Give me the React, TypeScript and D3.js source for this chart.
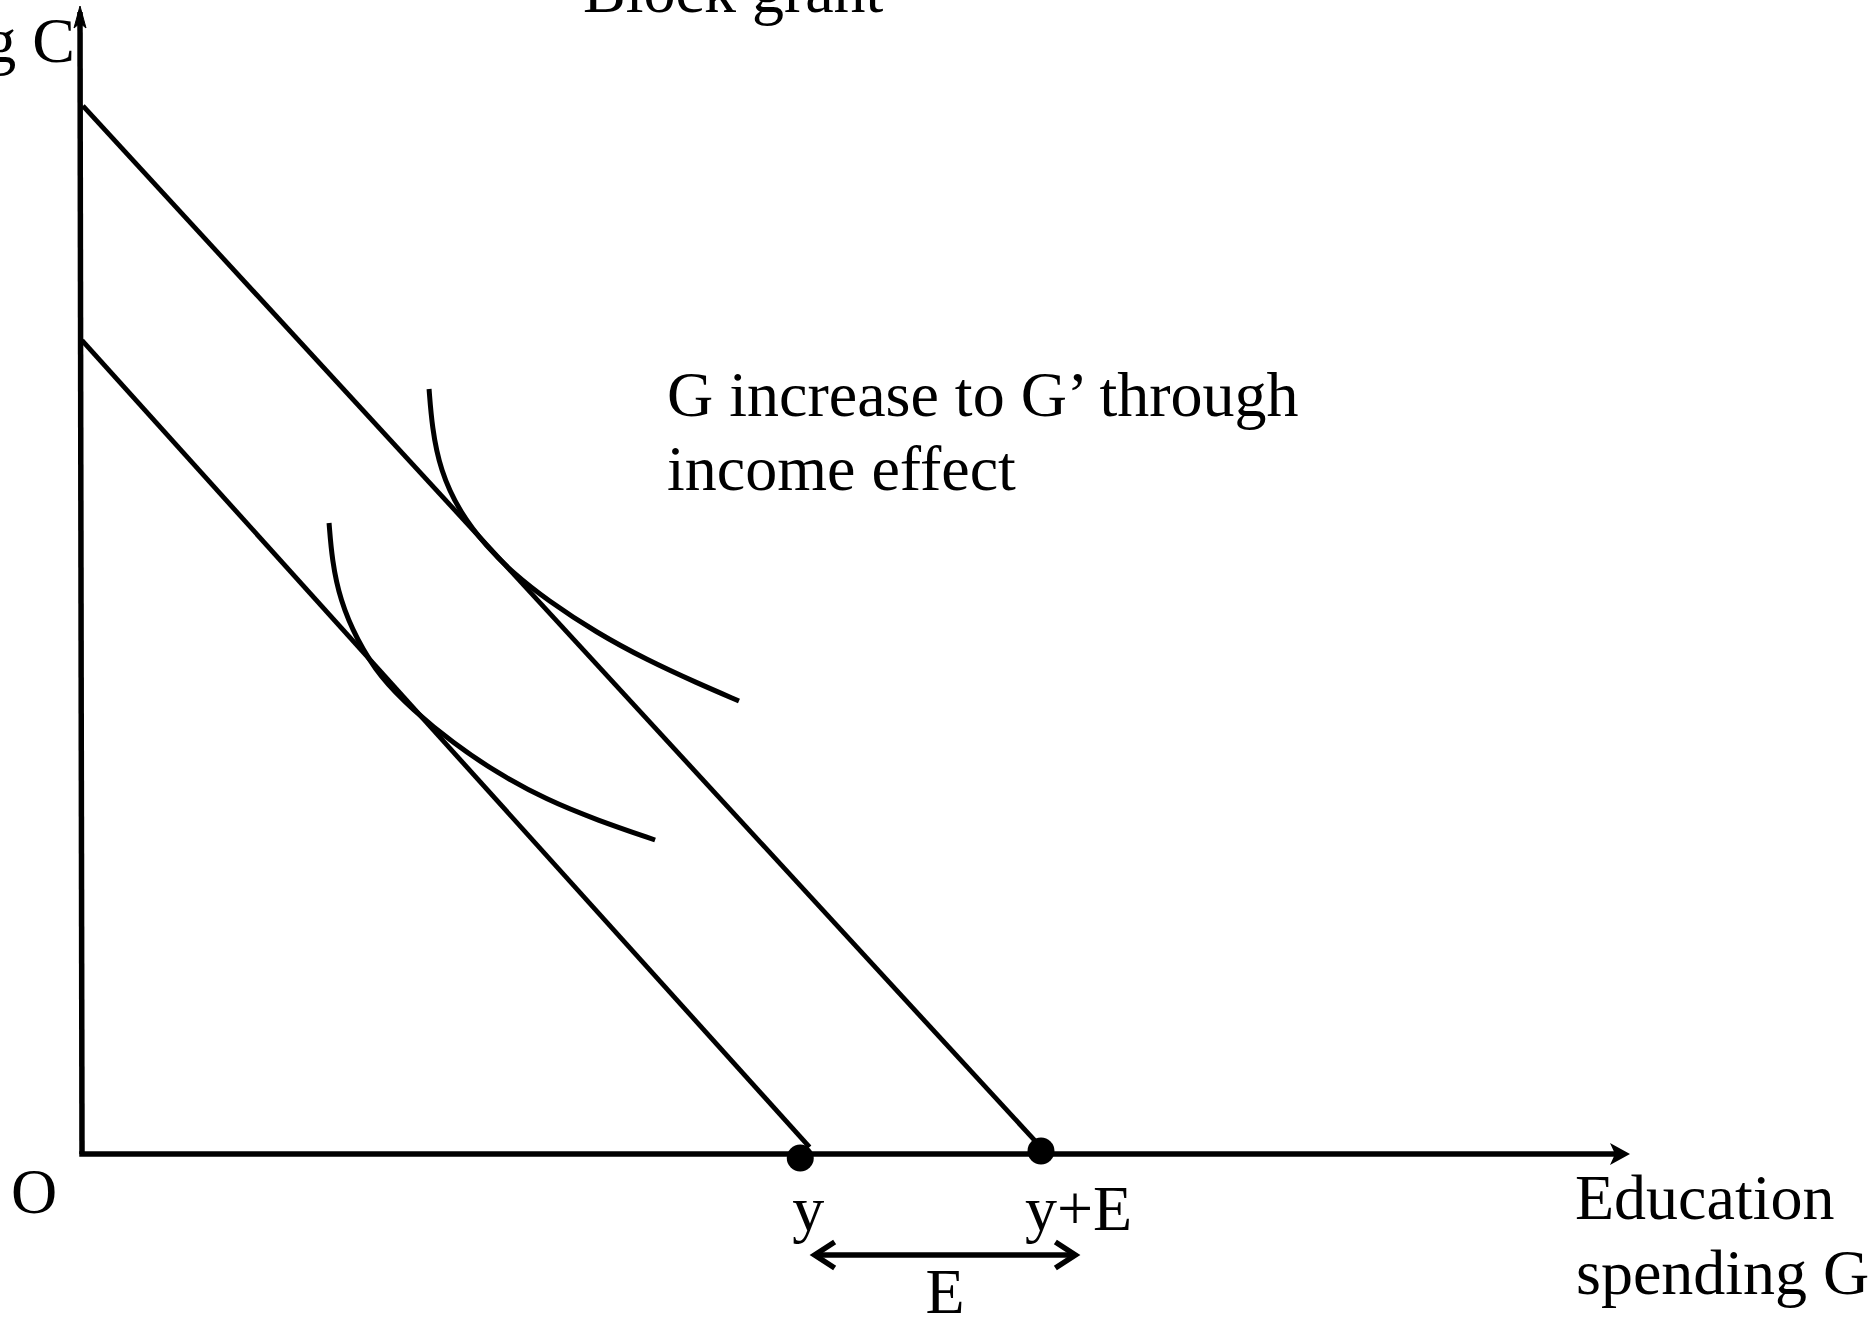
import React from "react";
import * as d3 from "d3";

const WIDTH = 1874;
const HEIGHT = 1319;
const FONT = "'Liberation Serif', 'Times New Roman', serif";
const FONT_SIZE = 64;

// Axis extents in model units (G horizontal, C vertical)
const gAxis = [0, 100];
const cAxis = [0, 100];

// Budget constraints: [G, C] end points
const budgetBefore: [number, number][] = [
  [0, 71.0],
  [47.0, 0.6],
];
const budgetAfter: [number, number][] = [
  [0.06, 91.45],
  [61.6, 1.1],
];

// Indifference curves: [G, C]
const indiffLow: [number, number][] = [
  [15.96, 55.06],
  [16.15, 51.83],
  [16.67, 48.34],
  [17.76, 44.85],
  [19.25, 41.62],
  [21.38, 38.74],
  [23.97, 35.86],
  [26.81, 33.25],
  [30.04, 30.89],
  [33.27, 29.14],
  [37.02, 27.4],
];
const indiffHigh: [number, number][] = [
  [22.42, 66.75],
  [22.61, 63.44],
  [23.13, 59.69],
  [24.42, 55.93],
  [26.16, 52.97],
  [27.84, 50.7],
  [30.04, 48.34],
  [33.27, 45.46],
  [36.5, 43.11],
  [39.73, 41.1],
  [42.44, 39.53],
];

// Income points on the G axis
const incomeNames = ["y", "y+E"];
const incomeG = [46.4, 61.95];
const incomeC = [-0.35, 0.26];

// Grant span E
const grantSpan = [47.2, 64.3];

const titleText = "Block grant";
const yAxisLabel = "Other spending C";
const xAxisLabel = ["Education", "spending G"];
const noteText = ["G increase to G\u2019 through", "income effect"];
const originLabel = "O";
const spanLabel = "E";

export default function App() {
  const x = d3.scaleLinear().domain(gAxis).range([82, 1630]);
  const y = d3.scaleLinear().domain(cAxis).range([1154, 8]);

  const line = d3
    .line<[number, number]>()
    .x((d) => x(d[0]))
    .y((d) => y(d[1]));
  const curve = d3
    .line<[number, number]>()
    .x((d) => x(d[0]))
    .y((d) => y(d[1]))
    .curve(d3.curveBasis);

  const x0 = x(gAxis[0]);
  const xEnd = x(gAxis[1]);
  const y0 = y(cAxis[0]);
  const yEnd = y(cAxis[1]);

  // arrowheads
  const xHead = `M${xEnd},${y0} L${xEnd - 20},${y0 - 11} L${xEnd - 15},${y0} L${xEnd - 20},${y0 + 11} Z`;
  const yTopX = x0 - 2;
  const yHead = `M${yTopX},${yEnd - 2} L${yTopX - 6},${yEnd + 20} L${yTopX},${yEnd + 15} L${yTopX + 6},${yEnd + 20} Z`;

  const spanY = 1255;
  const sx0 = x(grantSpan[0]);
  const sx1 = x(grantSpan[1]);

  const textStyle = { fontFamily: FONT, fontSize: FONT_SIZE, fill: "#000" };

  return (
    <svg
      width={WIDTH}
      height={HEIGHT}
      style={{ position: "absolute", left: 0, top: 0, background: "#fff" }}
    >
      <rect width={WIDTH} height={HEIGHT} fill="#fff" />

      {/* axes */}
      <line x1={yTopX} y1={yEnd + 4} x2={x0} y2={y0} stroke="#000" strokeWidth={5.5} />
      <line x1={x0 - 2.75} y1={y0} x2={xEnd - 10} y2={y0} stroke="#000" strokeWidth={5.5} />
      <path d={xHead} fill="#000" />
      <path d={yHead} fill="#000" stroke="#000" strokeWidth={1} />

      {/* budget lines */}
      <path d={line(budgetBefore) ?? ""} fill="none" stroke="#000" strokeWidth={4.8} />
      <path d={line(budgetAfter) ?? ""} fill="none" stroke="#000" strokeWidth={4.8} />

      {/* indifference curves */}
      <path d={curve(indiffLow) ?? ""} fill="none" stroke="#000" strokeWidth={5} />
      <path d={curve(indiffHigh) ?? ""} fill="none" stroke="#000" strokeWidth={5} />

      {/* income points */}
      {incomeG.map((g, i) => (
        <circle key={incomeNames[i]} cx={x(g)} cy={y(incomeC[i])} r={13.5} fill="#000" />
      ))}

      {/* span arrow */}
      <line x1={sx0 + 2} y1={spanY} x2={sx1 - 2} y2={spanY} stroke="#000" strokeWidth={5.5} />
      <path
        d={`M${sx0 + 22},${spanY - 13} L${sx0 + 2},${spanY} L${sx0 + 22},${spanY + 13}`}
        fill="none"
        stroke="#000"
        strokeWidth={5.5}
      />
      <path
        d={`M${sx1 - 22},${spanY - 13} L${sx1 - 2},${spanY} L${sx1 - 22},${spanY + 13}`}
        fill="none"
        stroke="#000"
        strokeWidth={5.5}
      />

      {/* text */}
      <text x={583} y={12} style={textStyle}>{titleText}</text>
      <text x={75} y={62} textAnchor="end" style={textStyle}>{yAxisLabel}</text>
      <text x={34} y={1213} textAnchor="middle" style={textStyle}>{originLabel}</text>
      <text x={x(incomeG[0]) + 8} y={1230} textAnchor="middle" style={textStyle}>{incomeNames[0]}</text>
      <text x={1025} y={1230} style={textStyle}>{incomeNames[1]}</text>
      <text x={(sx0 + sx1) / 2} y={1313} textAnchor="middle" style={textStyle}>{spanLabel}</text>
      <text x={1575} y={1219} style={textStyle}>{xAxisLabel[0]}</text>
      <text x={1576} y={1294} style={textStyle}>{xAxisLabel[1]}</text>
      <text x={667} y={416} style={textStyle}>{noteText[0]}</text>
      <text x={667} y={490} style={textStyle}>{noteText[1]}</text>
    </svg>
  );
}
